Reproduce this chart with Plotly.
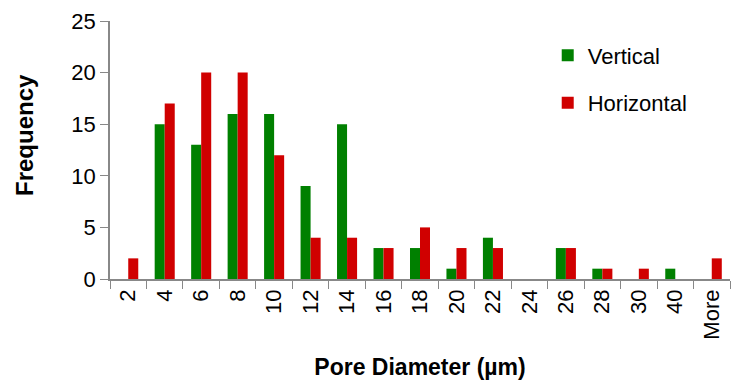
import plotly.graph_objects as go

categories = ["2", "4", "6", "8", "10", "12", "14", "16", "18", "20", "22", "24", "26", "28", "30", "40", "More"]
vertical = [0, 15, 13, 16, 16, 9, 15, 3, 3, 1, 4, 0, 3, 1, 0, 1, 0]
horizontal = [2, 17, 20, 20, 12, 4, 4, 3, 5, 3, 3, 0, 3, 1, 1, 0, 2]

font_family = "Liberation Sans, Arial, sans-serif"

fig = go.Figure()
fig.add_trace(go.Bar(x=categories, y=vertical, name="Vertical", legendgroup="v",
                     marker=dict(color="#008000", line=dict(width=0))))
fig.add_trace(go.Bar(x=categories, y=horizontal, name="Horizontal", legendgroup="h",
                     marker=dict(color="#d00000", line=dict(width=0))))

fig.update_layout(
    width=732, height=388,
    margin=dict(l=110, r=2, t=21, b=109),
    paper_bgcolor="white", plot_bgcolor="white",
    barmode="group", bargap=0.45, bargroupgap=0,
    font=dict(family=font_family, color="black", size=20),
    showlegend=True,
    legend=dict(x=0.706, y=0.948, xanchor="left", yanchor="top",
                font=dict(size=22, color="black"),
                tracegroupgap=16, itemsizing="constant",
                bgcolor="rgba(0,0,0,0)"),
    xaxis=dict(
        type="category", tickangle=-90, tickson="boundaries",
        ticks="outside", ticklen=8, tickcolor="#888888", tickwidth=1,
        showline=True, linecolor="#888888", linewidth=1.5,
        showgrid=False, tickfont=dict(size=22), automargin=False,
        title=dict(text="<b>Pore Diameter (µm)</b>", font=dict(size=23), standoff=20),
    ),
    yaxis=dict(
        range=[0, 25], dtick=5, ticks="outside", ticklen=8,
        tickcolor="#888888", tickwidth=1,
        showline=True, linecolor="#888888", linewidth=1.5,
        showgrid=False, zeroline=False, tickfont=dict(size=22), automargin=False,
    ),
    annotations=[dict(
        text="<b>Frequency</b>", textangle=-90, showarrow=False,
        xref="paper", yref="paper", x=(24 - 110) / 620, y=(279 - 135) / 258,
        xanchor="center", yanchor="middle", font=dict(size=24, color="black"),
    )],
)

fig.write_html("out.html")
